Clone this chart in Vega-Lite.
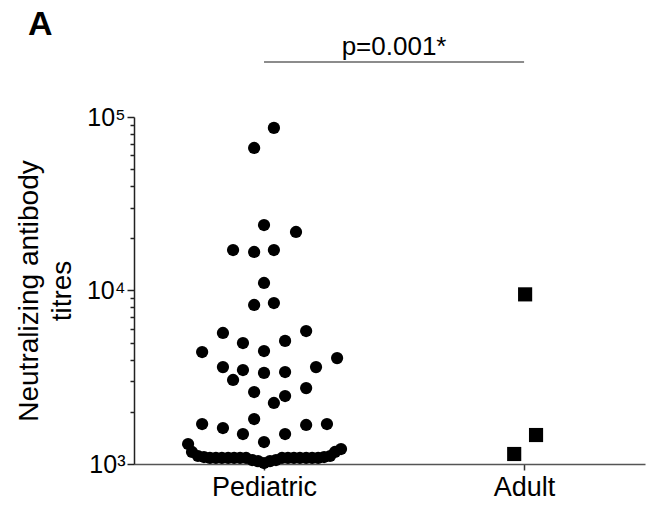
{
  "$schema": "https://vega.github.io/schema/vega-lite/v6.json",
  "autosize": "none",
  "width": 511,
  "height": 347,
  "padding": {"left": 134, "top": 117, "right": 3, "bottom": 48},
  "background": "white",
  "config": {"font": "Liberation Sans", "view": {"stroke": null}},
  "title": {"text": "A", "anchor": "start", "frame": "group", "fontSize": 34, "fontWeight": "bold", "font": "Liberation Sans", "color": "black", "dx": -106, "dy": 12},
  "datasets": {
    "titres": [
      {"group": "Pediatric", "xpos": 1.038, "titre": 86500},
      {"group": "Pediatric", "xpos": 0.962, "titre": 66300},
      {"group": "Pediatric", "xpos": 1.0, "titre": 23850},
      {"group": "Pediatric", "xpos": 1.123, "titre": 21740},
      {"group": "Pediatric", "xpos": 0.881, "titre": 17110},
      {"group": "Pediatric", "xpos": 0.962, "titre": 16670},
      {"group": "Pediatric", "xpos": 1.038, "titre": 17110},
      {"group": "Pediatric", "xpos": 1.0, "titre": 11050},
      {"group": "Pediatric", "xpos": 0.962, "titre": 8250},
      {"group": "Pediatric", "xpos": 1.038, "titre": 8470},
      {"group": "Pediatric", "xpos": 0.842, "titre": 5690},
      {"group": "Pediatric", "xpos": 1.162, "titre": 5840},
      {"group": "Pediatric", "xpos": 0.919, "titre": 4980},
      {"group": "Pediatric", "xpos": 1.081, "titre": 5120},
      {"group": "Pediatric", "xpos": 0.762, "titre": 4420},
      {"group": "Pediatric", "xpos": 1.0, "titre": 4480},
      {"group": "Pediatric", "xpos": 1.281, "titre": 4080},
      {"group": "Pediatric", "xpos": 0.842, "titre": 3620},
      {"group": "Pediatric", "xpos": 0.919, "titre": 3480},
      {"group": "Pediatric", "xpos": 1.0, "titre": 3350},
      {"group": "Pediatric", "xpos": 1.081, "titre": 3390},
      {"group": "Pediatric", "xpos": 1.2, "titre": 3620},
      {"group": "Pediatric", "xpos": 0.881, "titre": 3050},
      {"group": "Pediatric", "xpos": 0.962, "titre": 2600},
      {"group": "Pediatric", "xpos": 1.162, "titre": 2740},
      {"group": "Pediatric", "xpos": 1.081, "titre": 2465},
      {"group": "Pediatric", "xpos": 1.038, "titre": 2247},
      {"group": "Pediatric", "xpos": 0.762, "titre": 1700},
      {"group": "Pediatric", "xpos": 0.842, "titre": 1612},
      {"group": "Pediatric", "xpos": 0.962, "titre": 1817},
      {"group": "Pediatric", "xpos": 1.162, "titre": 1678},
      {"group": "Pediatric", "xpos": 1.242, "titre": 1700},
      {"group": "Pediatric", "xpos": 0.919, "titre": 1489},
      {"group": "Pediatric", "xpos": 1.081, "titre": 1489},
      {"group": "Pediatric", "xpos": 1.0, "titre": 1339},
      {"group": "Pediatric", "xpos": 0.708, "titre": 1304},
      {"group": "Pediatric", "xpos": 1.296, "titre": 1220},
      {"group": "Pediatric", "xpos": 0.723, "titre": 1173},
      {"group": "Pediatric", "xpos": 1.273, "titre": 1173},
      {"group": "Pediatric", "xpos": 0.746, "titre": 1112},
      {"group": "Pediatric", "xpos": 0.769, "titre": 1097},
      {"group": "Pediatric", "xpos": 0.792, "titre": 1083},
      {"group": "Pediatric", "xpos": 0.815, "titre": 1083},
      {"group": "Pediatric", "xpos": 0.838, "titre": 1083},
      {"group": "Pediatric", "xpos": 0.862, "titre": 1083},
      {"group": "Pediatric", "xpos": 0.885, "titre": 1083},
      {"group": "Pediatric", "xpos": 0.908, "titre": 1083},
      {"group": "Pediatric", "xpos": 0.931, "titre": 1083},
      {"group": "Pediatric", "xpos": 0.954, "titre": 1054},
      {"group": "Pediatric", "xpos": 0.977, "titre": 1040},
      {"group": "Pediatric", "xpos": 1.0, "titre": 1013},
      {"group": "Pediatric", "xpos": 1.023, "titre": 1040},
      {"group": "Pediatric", "xpos": 1.046, "titre": 1054},
      {"group": "Pediatric", "xpos": 1.069, "titre": 1083},
      {"group": "Pediatric", "xpos": 1.092, "titre": 1083},
      {"group": "Pediatric", "xpos": 1.115, "titre": 1083},
      {"group": "Pediatric", "xpos": 1.138, "titre": 1083},
      {"group": "Pediatric", "xpos": 1.162, "titre": 1083},
      {"group": "Pediatric", "xpos": 1.185, "titre": 1083},
      {"group": "Pediatric", "xpos": 1.208, "titre": 1083},
      {"group": "Pediatric", "xpos": 1.231, "titre": 1097},
      {"group": "Pediatric", "xpos": 1.254, "titre": 1112},
      {"group": "Adult", "xpos": 2.004, "titre": 9500},
      {"group": "Adult", "xpos": 2.046, "titre": 1469},
      {"group": "Adult", "xpos": 1.962, "titre": 1142}
    ],
    "comparison": [
      {"from": 1, "to": 2, "mid": 1.5, "level": 207500, "textLevel": 228000, "label": "p=0.001*"}
    ]
  },
  "layer": [
    {
      "data": {"name": "titres"},
      "mark": {"type": "point", "filled": true, "opacity": 1, "strokeWidth": 0},
      "encoding": {
        "x": {
          "field": "xpos", "type": "quantitative",
          "scale": {"domain": [0.5, 2.465], "nice": false, "zero": false},
          "axis": {
            "title": null, "values": [1, 2], "grid": false,
            "labelExpr": "datum.value == 1 ? 'Pediatric' : 'Adult'",
            "labelFontSize": 27, "labelColor": "black", "labelFont": "Liberation Sans",
            "labelPadding": 4, "labelFlush": false, "labelOverlap": false,
            "tickSize": 6, "tickColor": "#333", "tickWidth": 1.5,
            "domainColor": "#555", "domainWidth": 1.5
          }
        },
        "y": {
          "field": "titre", "type": "quantitative",
          "scale": {"type": "log", "domain": [1000, 100000], "nice": false},
          "axis": {
            "title": ["Neutralizing antibody", "titres"],
            "titleFontSize": 28, "titleFontWeight": "normal", "titleColor": "black", "titleFont": "Liberation Sans",
            "titlePadding": 10, "titleLineHeight": 33,
            "values": [1000, 2000, 3000, 4000, 5000, 6000, 7000, 8000, 9000, 10000, 20000, 30000, 40000, 50000, 60000, 70000, 80000, 90000, 100000],
            "labelExpr": "datum.value == 1000 ? '10³' : datum.value == 10000 ? '10⁴' : datum.value == 100000 ? '10⁵' : ''",
            "labelFontSize": 25, "labelColor": "black", "labelFont": "Liberation Sans",
            "labelOverlap": false, "labelFlush": false, "labelPadding": 2,
            "tickSize": {"condition": {"test": "datum.value == 1000 || datum.value == 10000 || datum.value == 100000", "value": 7}, "value": 4},
            "tickColor": "#222", "tickWidth": 1.5, "grid": false,
            "domainColor": "#222", "domainWidth": 1.5
          }
        },
        "shape": {
          "field": "group", "type": "nominal",
          "scale": {"domain": ["Pediatric", "Adult"], "range": ["circle", "square"]},
          "legend": null
        },
        "size": {
          "field": "group", "type": "nominal",
          "scale": {"domain": ["Pediatric", "Adult"], "range": [150, 200]},
          "legend": null
        },
        "color": {"value": "black"}
      }
    },
    {
      "data": {"name": "comparison"},
      "mark": {"type": "rule", "color": "#666", "strokeWidth": 1.5, "clip": false},
      "encoding": {
        "x": {"field": "from", "type": "quantitative"},
        "x2": {"field": "to"},
        "y": {"field": "level", "type": "quantitative"}
      }
    },
    {
      "data": {"name": "comparison"},
      "mark": {"type": "text", "fontSize": 26, "font": "Liberation Sans", "color": "black", "baseline": "alphabetic", "align": "center", "clip": false},
      "encoding": {
        "x": {"field": "mid", "type": "quantitative"},
        "y": {"field": "textLevel", "type": "quantitative"},
        "text": {"field": "label"}
      }
    }
  ]
}
